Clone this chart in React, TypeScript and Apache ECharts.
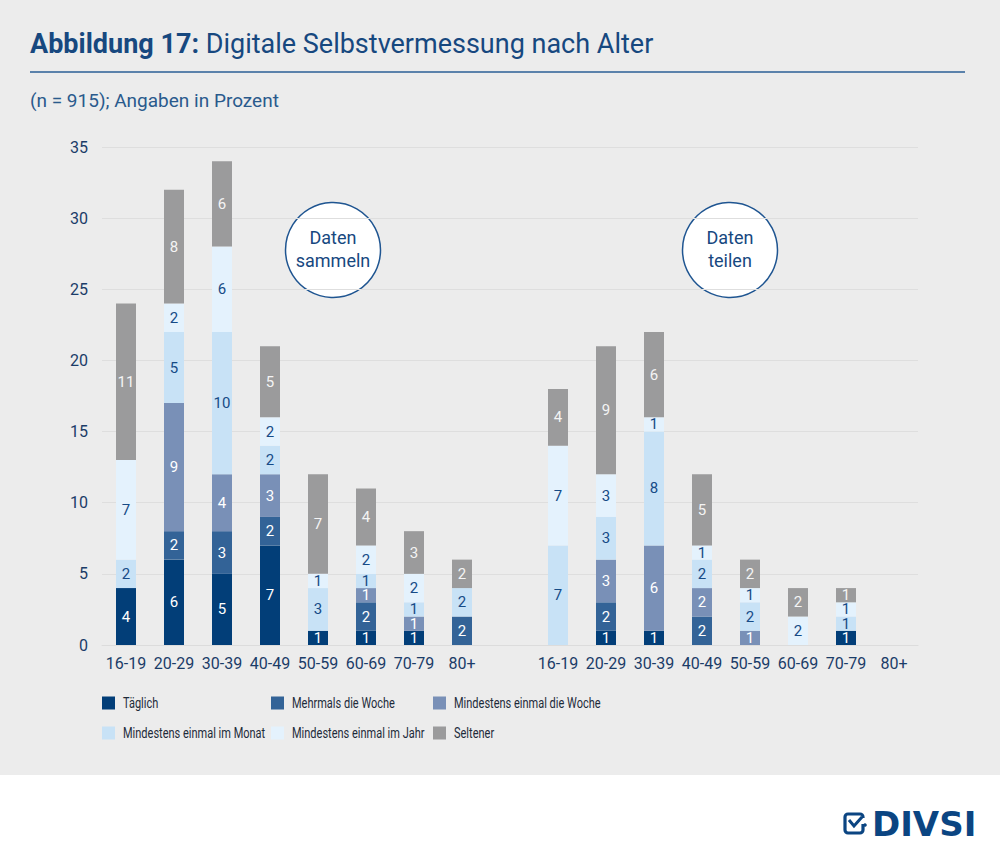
import React, { useEffect, useRef } from "react";
import * as echarts from "echarts";

const ageGroups = ["16-19", "20-29", "30-39", "40-49", "50-59", "60-69", "70-79", "80+"];
const xLabels = [...ageGroups, "", ...ageGroups];
const yTicks = { min: 0, max: 35, interval: 5 };

const seriesNames = [
  "Täglich",
  "Mehrmals die Woche",
  "Mindestens einmal die Woche",
  "Mindestens einmal im Monat",
  "Mindestens einmal im Jahr",
  "Seltener",
];
const seriesColors = ["#023e78", "#336397", "#7990b7", "#c8e2f6", "#e4f2fd", "#9b9b9c"];
const labelColors = ["#ffffff", "#ffffff", "#ffffff", "#164b86", "#164b86", "#f4f4f4"];

// Daten sammeln
const taeglichSammeln = [4, 6, 5, 7, 1, 1, 1, 0];
const mehrmalsSammeln = [0, 2, 3, 2, 0, 2, 0, 2];
const wocheSammeln = [0, 9, 4, 3, 0, 1, 1, 0];
const monatSammeln = [2, 5, 10, 2, 3, 1, 1, 2];
const jahrSammeln = [7, 2, 6, 2, 1, 2, 2, 0];
const seltenerSammeln = [11, 8, 6, 5, 7, 4, 3, 2];

// Daten teilen
const taeglichTeilen = [0, 1, 1, 0, 0, 0, 1, 0];
const mehrmalsTeilen = [0, 2, 0, 2, 0, 0, 0, 0];
const wocheTeilen = [0, 3, 6, 2, 1, 0, 0, 0];
const monatTeilen = [7, 3, 8, 2, 2, 0, 1, 0];
const jahrTeilen = [7, 3, 1, 1, 1, 2, 1, 0];
const seltenerTeilen = [4, 9, 6, 5, 2, 2, 1, 0];

const sammeln = [taeglichSammeln, mehrmalsSammeln, wocheSammeln, monatSammeln, jahrSammeln, seltenerSammeln];
const teilen = [taeglichTeilen, mehrmalsTeilen, wocheTeilen, monatTeilen, jahrTeilen, seltenerTeilen];

const FONT = "Roboto, sans-serif";
const BLUE = "#17487f";

// legend layout (3 columns x 2 rows)
const legendColX = [102, 271, 433];
const legendRowY = [703, 733];

export default function App() {
  const ref = useRef<HTMLDivElement>(null);

  useEffect(() => {
    document.body.style.margin = "0";
    const chart = echarts.init(ref.current!, null, { renderer: "svg" });

    const series = seriesNames.map((name, i) => ({
      name,
      type: "bar",
      stack: "total",
      barWidth: 20,
      itemStyle: { color: seriesColors[i] },
      label: {
        show: true,
        position: "inside",
        color: labelColors[i],
        fontSize: 15,
        fontFamily: FONT,
      },
      data: [...sammeln[i], 0, ...teilen[i]].map((v) => (v === 0 ? null : v)),
    }));

    const legendGraphics: any[] = [];
    seriesNames.forEach((name, i) => {
      const cx = legendColX[i % 3];
      const cy = legendRowY[Math.floor(i / 3)];
      legendGraphics.push({
        type: "rect",
        shape: { x: cx, y: cy - 6.5, width: 13, height: 13 },
        style: { fill: seriesColors[i] },
      });
      legendGraphics.push({
        type: "text",
        x: cx + 21,
        y: cy,
        scaleX: 0.71,
        style: {
          text: name,
          fontSize: 15.5,
          fontFamily: FONT,
          fill: "#1d2b3a",
          verticalAlign: "middle",
          align: "left",
        },
      });
    });

    chart.setOption({
      animation: false,
      backgroundColor: "#ececec",
      grid: { left: 102, right: 82, top: 147, bottom: 213 },
      xAxis: {
        type: "category",
        data: xLabels,
        axisTick: { show: false },
        axisLine: { show: true, lineStyle: { color: "#dcdcdc", width: 1 } },
        axisLabel: { color: "#1b3c68", fontSize: 16, fontFamily: FONT, margin: 10, interval: 0 },
      },
      yAxis: {
        type: "value",
        min: yTicks.min,
        max: yTicks.max,
        interval: yTicks.interval,
        axisLabel: { color: "#1b3c68", fontSize: 16, fontFamily: FONT, margin: 14 },
        splitLine: { lineStyle: { color: "#dedede", width: 1 } },
        axisLine: { show: false },
        axisTick: { show: false },
      },
      graphic: [
        { type: "rect", shape: { x: 0, y: 775, width: 1000, height: 83 }, style: { fill: "#ffffff" } },
        {
          type: "text",
          left: 30,
          top: 30,
          style: {
            text: "{b|Abbildung 17:} Digitale Selbstvermessung nach Alter",
            rich: {
              b: { fontWeight: "bold", fontSize: 27, fontFamily: FONT, fill: BLUE },
            },
            fontSize: 27,
            fontFamily: FONT,
            fill: BLUE,
          },
        },
        {
          type: "line",
          shape: { x1: 30, y1: 72, x2: 965, y2: 72 },
          style: { stroke: "#2b5f96", lineWidth: 1.5 },
        },
        {
          type: "text",
          left: 30,
          top: 91,
          style: { text: "(n = 915); Angaben in Prozent", fontSize: 19, fontFamily: FONT, fill: "#2a5a8c" },
        },
        {
          type: "circle",
          shape: { cx: 333, cy: 250, r: 47.5 },
          style: { fill: "#ffffff", stroke: "#1f5591", lineWidth: 1.5 },
        },
        {
          type: "text",
          x: 333,
          y: 249,
          style: {
            text: "Daten\nsammeln",
            align: "center",
            verticalAlign: "middle",
            fontSize: 18,
            lineHeight: 23,
            fontFamily: FONT,
            fill: BLUE,
          },
        },
        {
          type: "circle",
          shape: { cx: 730, cy: 250, r: 47.5 },
          style: { fill: "#ffffff", stroke: "#1f5591", lineWidth: 1.5 },
        },
        {
          type: "text",
          x: 730,
          y: 249,
          style: {
            text: "Daten\nteilen",
            align: "center",
            verticalAlign: "middle",
            fontSize: 18,
            lineHeight: 23,
            fontFamily: FONT,
            fill: BLUE,
          },
        },
        ...legendGraphics,
        // DIVSI logo
        {
          type: "rect",
          shape: { x: 845, y: 814, width: 18, height: 19, r: 3 },
          style: { fill: "none", stroke: "#0b4582", lineWidth: 3.2 },
        },
        {
          type: "rect",
          shape: { x: 857, y: 818, width: 9, height: 6 },
          style: { fill: "#ffffff" },
        },
        {
          type: "polyline",
          shape: { points: [[849, 820], [854, 826], [862, 817]] },
          style: { stroke: "#0b4582", lineWidth: 3, fill: "none" },
        },
        {
          type: "circle",
          shape: { cx: 865, cy: 825, r: 1.8 },
          style: { fill: "#0b4582" },
        },
        {
          type: "text",
          left: 872,
          top: 807,
          style: { text: "DIVSI", fontSize: 34, fontWeight: "bold", fontFamily: "'DejaVu Sans', sans-serif", fill: "#0b4582" },
        },
      ],
      series,
    });

    return () => chart.dispose();
  }, []);

  return <div ref={ref} style={{ width: 1000, height: 858 }} />;
}
